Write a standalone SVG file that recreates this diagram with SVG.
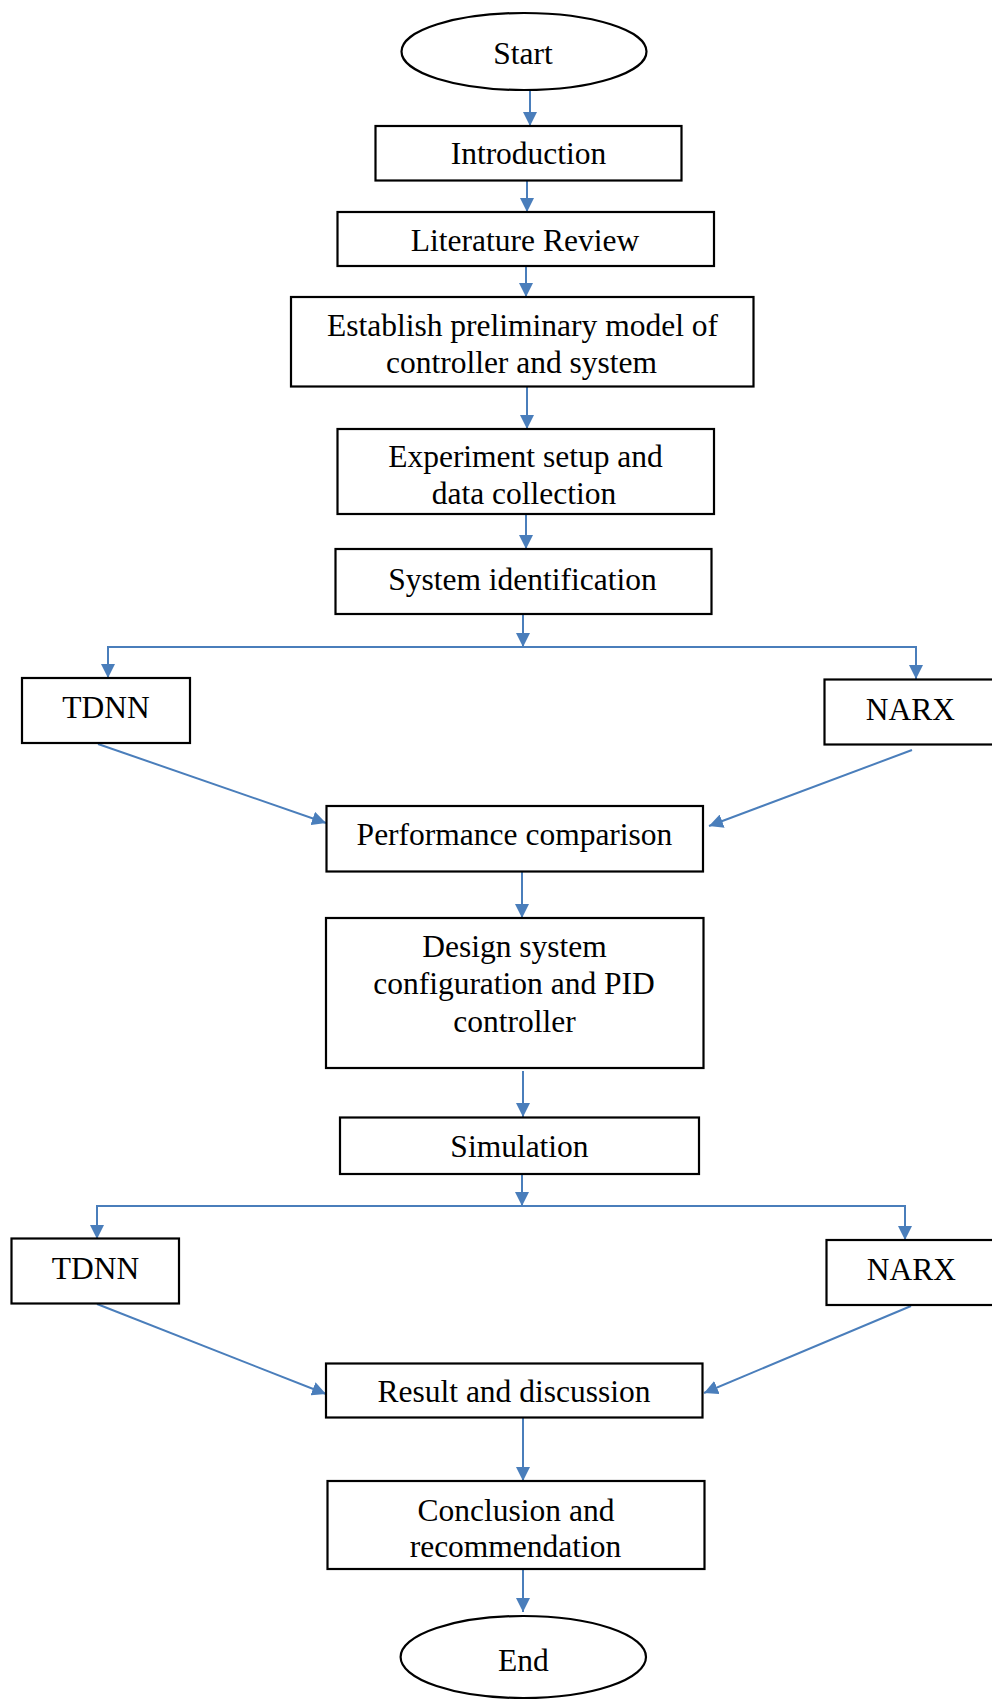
<svg xmlns="http://www.w3.org/2000/svg" width="992" height="1702" viewBox="0 0 992 1702">
<style>
.box{fill:#fff;stroke:#000;stroke-width:2.2}
.t{font-family:"Liberation Serif","Times New Roman",serif;font-size:31.5px;fill:#000;text-anchor:middle}
.c{fill:none;stroke:#4A7EBB;stroke-width:2}
</style>
<defs>
<marker id="ah" viewBox="0 0 14 14" refX="14" refY="7" markerWidth="14" markerHeight="14" markerUnits="userSpaceOnUse" orient="auto">
<path d="M0,0 L14,7 L0,14 z" fill="#4A7EBB"/>
</marker>
</defs>
<rect width="992" height="1702" fill="#fff"/>
<g id="connectors">
<path class="c" d="M530,90 L530,126" marker-end="url(#ah)"/>
<path class="c" d="M527,181 L527,212" marker-end="url(#ah)"/>
<path class="c" d="M526,266 L526,297" marker-end="url(#ah)"/>
<path class="c" d="M527,387 L527,429" marker-end="url(#ah)"/>
<path class="c" d="M526,514 L526,549" marker-end="url(#ah)"/>
<path class="c" d="M523,614 L523,647" marker-end="url(#ah)"/>
<path class="c" d="M523,647 H108 V678" marker-end="url(#ah)"/>
<path class="c" d="M523,647 H916 V679" marker-end="url(#ah)"/>
<path class="c" d="M98,744 L326,823" marker-end="url(#ah)"/>
<path class="c" d="M912,750 L709,826" marker-end="url(#ah)"/>
<path class="c" d="M522,872 L522,918" marker-end="url(#ah)"/>
<path class="c" d="M523,1071 L523,1117" marker-end="url(#ah)"/>
<path class="c" d="M522,1174 L522,1206" marker-end="url(#ah)"/>
<path class="c" d="M522,1206 H97 V1239" marker-end="url(#ah)"/>
<path class="c" d="M522,1206 H905 V1240" marker-end="url(#ah)"/>
<path class="c" d="M97,1304 L326,1394" marker-end="url(#ah)"/>
<path class="c" d="M911,1306 L704,1393" marker-end="url(#ah)"/>
<path class="c" d="M523,1418 L523,1481" marker-end="url(#ah)"/>
<path class="c" d="M523,1569 L523,1612" marker-end="url(#ah)"/>
</g>
<g id="start"><ellipse class="box" cx="524" cy="51.5" rx="122.5" ry="38.5"/><text class="t" x="523" y="64">Start</text></g>
<g id="intro"><rect class="box" x="375.5" y="126" width="306" height="54.5"/><text class="t" x="528.5" y="164">Introduction</text></g>
<g id="litreview"><rect class="box" x="337.5" y="212" width="376.5" height="54"/><text class="t" x="525" y="250.5">Literature Review</text></g>
<g id="establish"><rect class="box" x="291" y="297" width="462.5" height="89.5"/><text class="t" x="522.5" y="336">Establish preliminary model of</text><text class="t" x="521.5" y="372.5">controller and system</text></g>
<g id="experiment"><rect class="box" x="337.5" y="429" width="376.5" height="85"/><text class="t" x="525.5" y="467">Experiment setup and</text><text class="t" x="524" y="504">data collection</text></g>
<g id="sysid"><rect class="box" x="335.5" y="549" width="376" height="65"/><text class="t" x="522.5" y="590">System identification</text></g>
<g id="tdnn1"><rect class="box" x="22" y="678" width="168" height="65"/><text class="t" x="106" y="718">TDNN</text></g>
<g id="narx1"><rect class="box" x="824.5" y="679.5" width="180" height="65"/><text class="t" x="910.5" y="720">NARX</text></g>
<g id="perf"><rect class="box" x="326.5" y="806" width="376.5" height="65.5"/><text class="t" x="514.5" y="845">Performance comparison</text></g>
<g id="design"><rect class="box" x="326" y="918" width="377.5" height="150"/><text class="t" x="514.5" y="956.5">Design system</text><text class="t" x="514" y="993.5">configuration and PID</text><text class="t" x="514.5" y="1031.5">controller</text></g>
<g id="simulation"><rect class="box" x="340" y="1117.5" width="359" height="56.5"/><text class="t" x="519.5" y="1157">Simulation</text></g>
<g id="tdnn2"><rect class="box" x="11.5" y="1238.5" width="167.5" height="65"/><text class="t" x="95.5" y="1278.5">TDNN</text></g>
<g id="narx2"><rect class="box" x="826.5" y="1240" width="180" height="65"/><text class="t" x="911.5" y="1279.5">NARX</text></g>
<g id="result"><rect class="box" x="326" y="1363.5" width="376.5" height="54"/><text class="t" x="514" y="1401.5">Result and discussion</text></g>
<g id="conclusion"><rect class="box" x="327.5" y="1481" width="377" height="88"/><text class="t" x="516" y="1520.5">Conclusion and</text><text class="t" x="515.5" y="1557">recommendation</text></g>
<g id="end"><ellipse class="box" cx="523.3" cy="1657" rx="122.7" ry="41"/><text class="t" x="523.3" y="1670.5">End</text></g>
</svg>
